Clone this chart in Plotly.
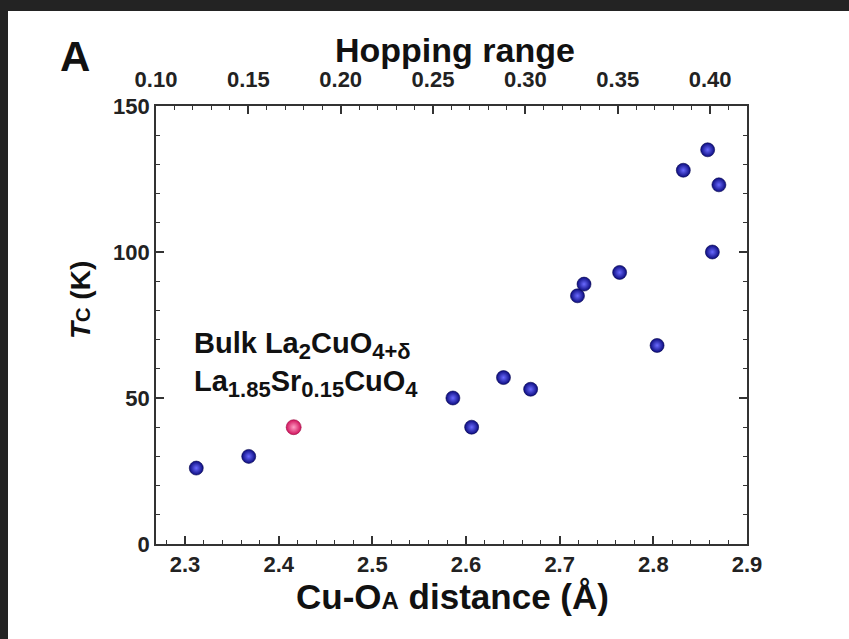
import plotly.graph_objects as go

# ---------------- data ----------------
cu_oa_distance = [2.312, 2.368, 2.586, 2.606, 2.640, 2.669, 2.719, 2.726,
                  2.764, 2.804, 2.832, 2.858, 2.870, 2.863]
tc_values = [26, 30, 50, 40, 57, 53, 85, 89, 93, 68, 128, 135, 123, 100]

bulk_distance = [2.416]
bulk_tc = [40]

bottom_ticks = [2.3, 2.4, 2.5, 2.6, 2.7, 2.8, 2.9]
top_ticks = [0.10, 0.15, 0.20, 0.25, 0.30, 0.35, 0.40]
y_ticks = [0, 50, 100, 150]

# ---------------- geometry ----------------
W, H = 849, 639
L, R, T, B = 156, 747, 106, 544
PW, PH = R - L, B - T


def px(x):
    return (x - L) / PW


def py(y):
    return (B - y) / PH


FONT = "Liberation Sans, Arial, sans-serif"
AX = "#333333"

fig = go.Figure()

fig.add_trace(go.Scatter(
    x=cu_oa_distance, y=tc_values, mode="markers",
    marker=dict(size=14, color="#0b0b7e",
                gradient=dict(type="radial", color="#6a6aff"),
                line=dict(color="#06064f", width=0.6)),
    showlegend=False, hoverinfo="x+y"))

fig.add_trace(go.Scatter(
    x=bulk_distance, y=bulk_tc, mode="markers",
    marker=dict(size=15, color="#d0125c",
                gradient=dict(type="radial", color="#ff9cc4"),
                line=dict(color="#9a0a40", width=0.6)),
    showlegend=False, hoverinfo="x+y"))

# invisible trace to activate top axis
fig.add_trace(go.Scatter(x=[0.1, 0.42], y=[0, 0], xaxis="x2", mode="markers",
                         marker=dict(opacity=0), showlegend=False,
                         hoverinfo="skip"))

tickfont = dict(family=FONT, size=22, color="#222222", weight="bold")

fig.update_layout(
    width=W, height=H,
    margin=dict(l=L, r=W - R, t=T, b=H - B, pad=0),
    paper_bgcolor="#232323",
    plot_bgcolor="white",
    xaxis=dict(range=[2.269, 2.9], tickvals=bottom_ticks,
               ticktext=[f"{v:.1f}" for v in bottom_ticks],
               ticks="inside", ticklen=8, tickwidth=1.5, tickcolor=AX,
               minor=dict(dtick=0.02, tick0=2.3, ticks="inside", ticklen=4,
                          tickwidth=1.2, tickcolor=AX),
               showline=True, linecolor=AX, linewidth=1.6, mirror=False,
               showgrid=False, zeroline=False, tickfont=tickfont),
    xaxis2=dict(range=[0.1, 0.42], tickvals=top_ticks,
                ticktext=[f"{v:.2f}" for v in top_ticks],
                overlaying="x", side="top", anchor="y",
                ticks="inside", ticklen=8, tickwidth=1.5, tickcolor=AX,
                ticklabelstandoff=8,
                minor=dict(dtick=0.01, tick0=0.1, ticks="inside", ticklen=4,
                           tickwidth=1.2, tickcolor=AX),
                showline=True, linecolor=AX, linewidth=1.6,
                showgrid=False, zeroline=False, tickfont=tickfont),
    yaxis=dict(range=[0, 150], tickvals=y_ticks,
               ticks="inside", ticklen=8, tickwidth=1.5, tickcolor=AX,
               minor=dict(dtick=10, ticks="inside", ticklen=4,
                          tickwidth=1.2, tickcolor=AX),
               showline=True, linecolor=AX, linewidth=1.6, mirror="ticks",
               showgrid=False, zeroline=False, tickfont=tickfont),
    shapes=[dict(type="rect", xref="paper", yref="paper", layer="below",
                 x0=px(8), x1=px(W + 20), y0=py(H + 20), y1=py(11),
                 fillcolor="white", line=dict(width=0))],
)

ann_font = dict(family=FONT, color="#111111", weight="bold")


def label(x, y, text, size, **kw):
    opts = dict(xanchor="center", yanchor="middle")
    opts.update(kw)
    fig.add_annotation(xref="paper", yref="paper", x=px(x), y=py(y),
                       text=text, showarrow=False,
                       font=dict(ann_font, size=size), **opts)


def sub(s):
    return f"<sub><span style='font-size:22px'>{s}</span></sub>"


label(75, 56, "A", 42)
label(455, 50, "Hopping range", 34)
label(452, 596, "Cu-O<span style='font-size:24px'>A</span> distance (Å)", 35)
label(80, 300, "<i>T</i><span style='font-size:20px'>C</span> (K)", 28,
      textangle=-90)
label(192, 364, "Bulk La" + sub("2") + "CuO" + sub("4+δ") + "<br>"
      "La" + sub("1.85") + "Sr" + sub("0.15") + "CuO" + sub("4"), 29,
      xanchor="left", align="left")

fig.write_html(
    "out.html",
    config={"displayModeBar": False},
    post_script="document.body.style.margin='0';"
                "document.body.style.background='#232323';")
